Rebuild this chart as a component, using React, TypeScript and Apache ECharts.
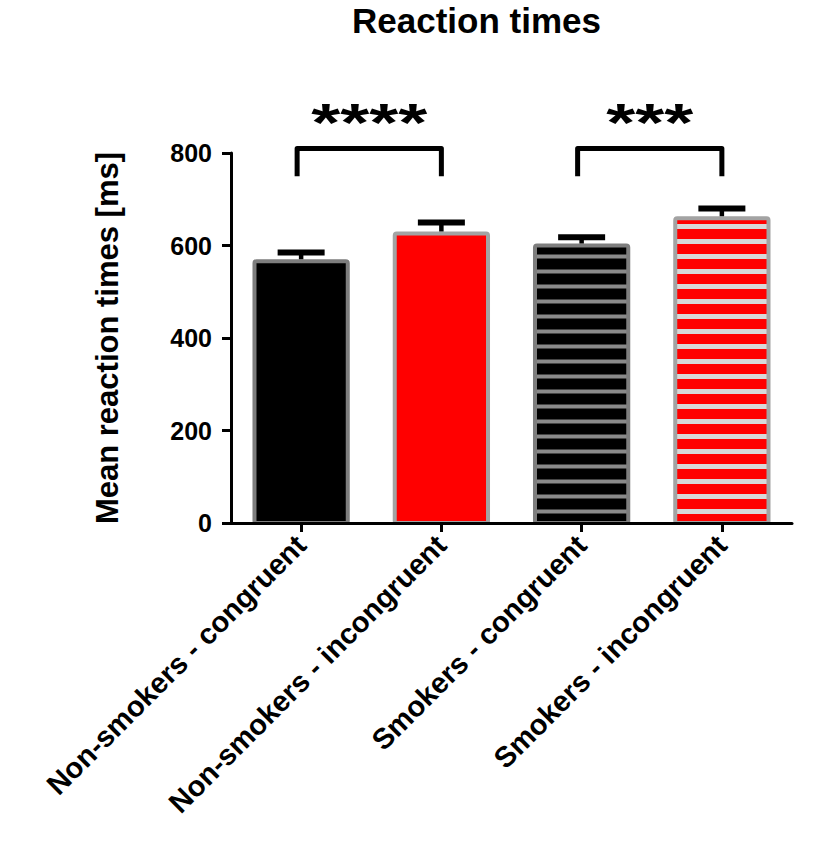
import React, { useEffect, useRef } from 'react';
import * as echarts from 'echarts';

const categories = [
  'Non-smokers - congruent',
  'Non-smokers - incongruent',
  'Smokers - congruent',
  'Smokers - incongruent',
];
const meanRT = [566, 626, 600, 659];
const semRT = [19, 24, 18, 21];
const yTicks = [0, 200, 400, 600, 800];
const comparisons = [[0, 1], [2, 3]];
const comparisonStars = ['****', '***'];
const bracketTop = [810, 810];
const bracketLeg = [750, 750];

const fills = ['#000000', '#ff0000', '#000000', '#ff0000'];
const borders = ['#7e7e7e', '#a3a3a3', '#7e7e7e', '#a3a3a3'];
const stripeColors: (string | null)[] = [null, null, '#8a8a8a', '#d8d8d8'];
const stripeWidths = [0, 0, 4, 5];

const FONT = 'Liberation Sans, Arial, Helvetica, sans-serif';

export default function App() {
  const ref = useRef<HTMLDivElement>(null);
  useEffect(() => {
    if (!ref.current) return;
    const chart = echarts.init(ref.current, undefined, { renderer: 'svg' });
    const barFrac = 0.665;
    const option: any = {
      animation: false,
      backgroundColor: '#ffffff',
      title: {
        text: 'Reaction times',
        left: 347,
        top: -2,
        textStyle: { fontFamily: FONT, fontSize: 35, fontWeight: 'bold', color: '#000' },
      },
      grid: { left: 231, right: 26, top: 153, bottom: 327, containLabel: false },
      xAxis: {
        type: 'category',
        data: categories,
        z: 10,
        axisLine: { show: true, lineStyle: { color: '#000', width: 3 } },
        axisTick: { show: true, alignWithLabel: true, length: 9, lineStyle: { color: '#000', width: 3 } },
        axisLabel: {
          interval: 0,
          rotate: 45,
          margin: 17,
          fontFamily: FONT,
          fontSize: 29,
          fontWeight: 'bold',
          color: '#000',
        },
      },
      yAxis: {
        type: 'value',
        min: yTicks[0],
        max: yTicks[yTicks.length - 1],
        interval: yTicks[1] - yTicks[0],
        z: 10,
        name: 'Mean reaction times [ms]',
        nameLocation: 'middle',
        nameGap: 108,
        nameRotate: 90,
        nameTextStyle: { fontFamily: FONT, fontSize: 31, fontWeight: 'bold', color: '#000' },
        axisLine: { show: true, lineStyle: { color: '#000', width: 3 } },
        axisTick: { show: true, length: 9, lineStyle: { color: '#000', width: 3 } },
        splitLine: { show: false },
        axisLabel: { margin: 19, fontFamily: FONT, fontSize: 25, fontWeight: 'bold', color: '#000' },
      },
      series: [
        {
          type: 'custom',
          name: 'bars',
          z: 2,
          data: categories.map((_, i) => [i, meanRT[i]]),
          renderItem: (params: any, api: any) => {
            const i = params.dataIndex;
            const c = api.value(0);
            const v = api.value(1);
            const top = api.coord([c, v]);
            const base = api.coord([c, 0]);
            const bw = api.size([1, 0])[0] * barFrac;
            const x = top[0] - bw / 2;
            const y = top[1];
            const h = base[1] - top[1];
            const children: any[] = [
              { type: 'rect', shape: { x, y, width: bw, height: h }, style: { fill: fills[i] } },
            ];
            const sc = stripeColors[i];
            if (sc) {
              const sw = stripeWidths[i];
              for (let s = base[1] - 11.5; s - sw / 2 > y; s -= 15) {
                children.push({
                  type: 'rect',
                  shape: { x, y: s - sw / 2, width: bw, height: sw },
                  style: { fill: sc },
                });
              }
            }
            children.push({
              type: 'rect',
              shape: { x, y, width: bw, height: h, r: 2 },
              style: { fill: 'none', stroke: borders[i], lineWidth: 4 },
            });
            return { type: 'group', children };
          },
        },
        {
          type: 'custom',
          name: 'sem',
          z: 3,
          data: categories.map((_, i) => [i, meanRT[i], semRT[i]]),
          renderItem: (params: any, api: any) => {
            const c = api.value(0);
            const v = api.value(1);
            const e = api.value(2);
            const top = api.coord([c, v]);
            const cap = api.coord([c, v + e]);
            const cw = 47;
            return {
              type: 'group',
              children: [
                {
                  type: 'line',
                  shape: { x1: top[0], y1: top[1] - 2, x2: cap[0], y2: cap[1] },
                  style: { stroke: '#000', lineWidth: 4.5 },
                },
                {
                  type: 'line',
                  shape: { x1: cap[0] - cw / 2, y1: cap[1], x2: cap[0] + cw / 2, y2: cap[1] },
                  style: { stroke: '#000', lineWidth: 6 },
                },
              ],
            };
          },
        },
        {
          type: 'custom',
          name: 'significance',
          z: 4,
          clip: false,
          data: comparisons.map((p, k) => [p[0], p[1], bracketTop[k], bracketLeg[k]]),
          renderItem: (params: any, api: any) => {
            const k = params.dataIndex;
            const a = api.coord([api.value(0), api.value(2)]);
            const b = api.coord([api.value(1), api.value(2)]);
            const leg = api.coord([api.value(0), api.value(3)]);
            const xl = a[0] - 4;
            const xr = b[0];
            return {
              type: 'group',
              children: [
                {
                  type: 'polyline',
                  shape: { points: [[xl, leg[1]], [xl, a[1]], [xr, b[1]], [xr, leg[1]]] },
                  style: { stroke: '#000', lineWidth: 5, fill: 'none', lineJoin: 'round' },
                },
                {
                  type: 'text',
                  x: (xl + xr) / 2,
                  y: a[1] - 26,
                  scaleX: 1.38,
                  style: {
                    text: comparisonStars[k],
                    fontFamily: FONT,
                    fontSize: 54,
                    fontWeight: 'bold',
                    fill: '#000',
                    align: 'center',
                    verticalAlign: 'middle',
                  },
                },
              ],
            };
          },
        },
      ],
    };
    chart.setOption(option);
    return () => chart.dispose();
  }, []);
  return (
    <div
      ref={ref}
      style={{ position: 'fixed', left: 0, top: 0, width: 818, height: 850, background: '#fff' }}
    />
  );
}
